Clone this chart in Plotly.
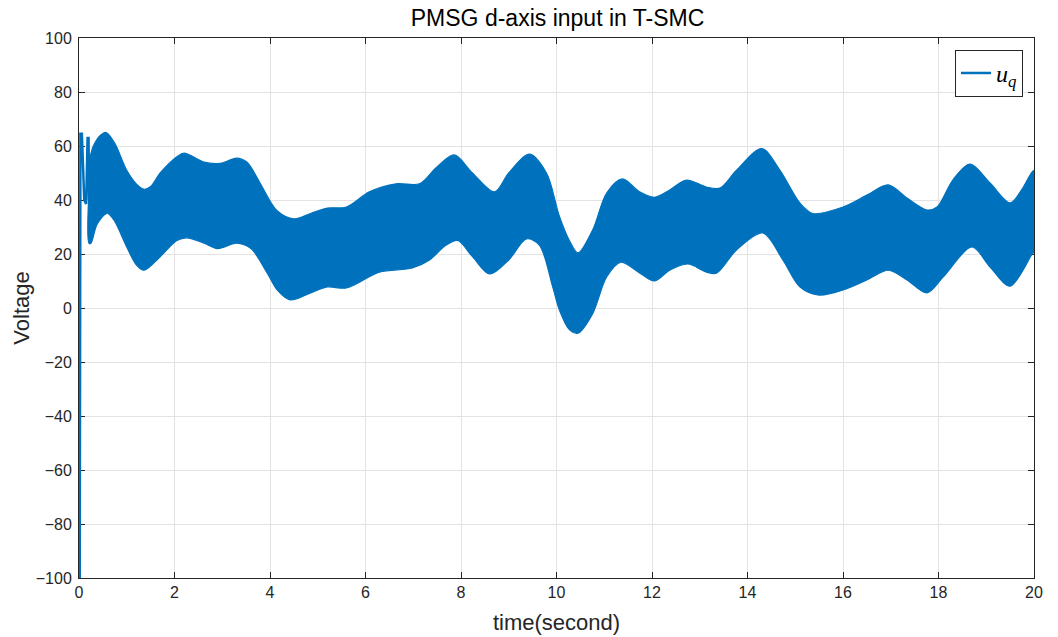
import plotly.graph_objects as go

# Start-up transient of u_q (drawn as a plain line)
t_start = [0.015, 0.017, 0.02, 0.03, 0.06, 0.11, 0.15, 0.18, 0.2, 0.21]
v_start = [-100.0, 13.0, 20.0, 64.5, 64.5, 40.0, 38.5, 63.0, 63.0, 40.0]

# Upper envelope of the high-frequency switching band
t_upper = [0.2, 0.21, 0.30, 0.45, 0.57, 0.75, 1.0, 1.2, 1.36, 1.5, 1.7, 2.05, 2.2,
           2.62, 2.96, 3.3, 3.52, 3.8, 4.15, 4.5, 4.85, 5.2, 5.6, 6.08, 6.64, 7.13,
           7.48, 7.86, 8.24, 8.7, 9.0, 9.43, 9.79, 10.06, 10.27, 10.45, 10.76, 11.05,
           11.38, 11.74, 12.05, 12.37, 12.72, 13.14, 13.42, 13.77, 14.3, 14.68, 15.1,
           15.37, 16.0, 16.5, 16.95, 17.34, 17.76, 17.97, 18.3, 18.66, 19.08, 19.5,
           19.75, 20.0]
v_upper = [63.0, 55.0, 60.0, 64.0, 65.0, 61.0, 51.0, 46.0, 44.0, 45.0, 50.0, 56.0, 57.4,
           54.0, 53.6, 55.5, 54.0, 46.0, 36.0, 33.0, 35.0, 37.0, 37.4, 43.0, 46.0, 46.0,
           52.0, 56.7, 50.0, 43.0, 50.0, 57.0, 50.0, 34.0, 25.0, 20.4, 29.0, 42.6,
           47.8, 43.0, 41.0, 43.7, 47.4, 44.8, 44.4, 51.0, 59.0, 51.0, 38.8,
           35.0, 37.4, 41.8, 45.6, 40.7, 36.3, 37.4, 47.4, 53.3, 46.3, 38.9,
           44.0, 51.0]

# Lower envelope of the band
t_lower = [0.2, 0.21, 0.25, 0.38, 0.59, 0.73, 1.0, 1.2, 1.36, 1.7, 2.05, 2.26, 2.62,
           2.9, 3.3, 3.6, 3.94, 4.15, 4.42, 4.84, 5.2, 5.6, 6.29, 6.98, 7.34, 7.69,
           7.93, 8.24, 8.6, 9.0, 9.37, 9.64, 9.92, 10.06, 10.27, 10.45, 10.76, 11.05,
           11.35, 11.74, 12.05, 12.37, 12.75, 13.14, 13.35, 13.77, 14.32, 14.74, 15.1,
           15.5, 16.0, 16.5, 16.95, 17.34, 17.76, 18.1, 18.7, 19.08, 19.5, 19.98, 20.0]
v_lower = [40.0, 24.0, 24.0, 31.0, 35.0, 32.6, 22.6, 16.0, 14.0, 19.0, 25.0, 26.0, 24.0,
           22.0, 24.0, 22.0, 13.0, 6.7, 3.0, 5.5, 7.8, 7.4, 13.3, 14.8, 17.8, 23.3,
           25.0, 19.0, 12.6, 17.8, 25.6, 23.3, 7.8, -0.7, -8.0, -9.3, -2.0, 11.5,
           17.0, 13.0, 10.0, 14.0, 16.3, 13.3, 12.9, 21.5, 27.8, 17.8, 7.8,
           4.8, 6.7, 10.4, 14.0, 10.4, 5.6, 11.5, 22.6, 15.2, 8.1, 20.4, 20.4]

x_ticks = list(range(0, 21, 2))
y_ticks = list(range(-100, 101, 20))

BLUE = "#0072BD"
AX = "#262626"
GRID = "#e3e3e3"
SANS = "Liberation Sans, Arial, sans-serif"

fig = go.Figure()

# Closed polygon: upper envelope forward, lower envelope backward
band_t = t_upper + t_lower[::-1]
band_v = v_upper + v_lower[::-1]
fig.add_trace(go.Scatter(
    x=band_t, y=band_v, mode="lines", fill="toself", fillcolor=BLUE,
    line=dict(color=BLUE, width=1.2, shape="spline", smoothing=0.9),
    showlegend=False, hoverinfo="skip"))

fig.add_trace(go.Scatter(
    x=t_start, y=v_start, mode="lines", name="<i>u</i><sub><i>q</i></sub>",
    line=dict(color=BLUE, width=2.5)))

axis_common = dict(
    showline=True, linecolor=AX, linewidth=1, mirror="ticks",
    ticks="inside", ticklen=6, tickcolor=AX, tickwidth=1,
    showgrid=True, gridcolor=GRID, gridwidth=1, zeroline=False,
    layer="below traces", automargin=False,
    tickfont=dict(family=SANS, size=16, color=AX),
)

fig.update_xaxes(range=[0, 20], tickvals=x_ticks, ticktext=[str(v) for v in x_ticks],
                 title=dict(text="time(second)", standoff=14,
                            font=dict(family=SANS, size=22, color=AX)),
                 **axis_common)
fig.update_yaxes(range=[-100, 100], tickvals=y_ticks,
                 ticktext=[str(v).replace("-", "\u2212") for v in y_ticks],
                 ticklabelstandoff=3,
                 title=dict(text="Voltage", standoff=0,
                            font=dict(family=SANS, size=22, color=AX)),
                 **axis_common)

fig.update_layout(
    width=1058, height=637,
    margin=dict(l=79, r=24, t=38, b=59),
    plot_bgcolor="white", paper_bgcolor="white",
    title=dict(text="PMSG d-axis input in T-SMC", x=0.527, xanchor="center",
               y=0.972, yanchor="middle",
               font=dict(family=SANS, size=23, color="black")),
    legend=dict(x=0.9885, xanchor="right", y=0.978, yanchor="top",
                bgcolor="white", bordercolor=AX, borderwidth=1,
                font=dict(family="Liberation Serif, DejaVu Serif, serif",
                          size=24, color="black"),
                itemwidth=30, tracegroupgap=0),
    showlegend=True,
)

fig.write_html("out.html")
